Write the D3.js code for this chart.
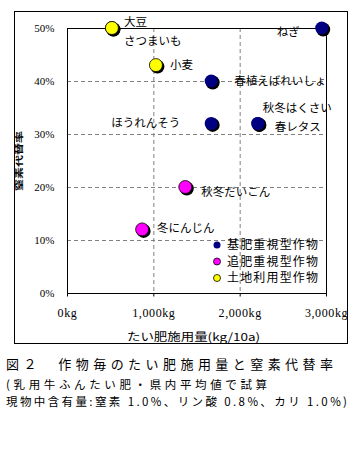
<!DOCTYPE html>
<html>
<head>
<meta charset="utf-8">
<script src="https://cdn.jsdelivr.net/npm/d3@7"></script>
<style>
  body { margin: 0; background: #fff; }
  .jp { font-family: "Noto Sans CJK JP", sans-serif; }
  .tick text { font-family: "Liberation Serif", serif; }
</style>
</head>
<body>
<div id="chart"></div>
<script>
// crops, manure applied (kg/10a), nitrogen replacement rate (%)
const crops = ["大豆", "さつまいも", "小麦", "ねぎ", "春植えばれいしょ", "ほうれんそう", "秋冬はくさい", "春レタス", "秋冬だいこん", "冬にんじん"];
const manure = [520, 520, 1030, 2950, 1670, 1670, 2210, 2210, 1370, 870];
const rate = [50, 50, 43, 50, 40, 32, 32, 32, 20, 12];
const cropType = [2, 2, 2, 0, 0, 0, 0, 0, 1, 1];

const typeNames = ["基肥重視型作物", "追肥重視型作物", "土地利用型作物"];
const typeColors = ["#000080", "#ff00ff", "#ffff00"];

const xTicks = [0, 1000, 2000, 3000];
const yTicks = [0, 10, 20, 30, 40, 50];

const caption = [
    "図２　作物毎のたい肥施用量と窒素代替率",
    "(乳用牛ふんたい肥・県内平均値で試算",
    "現物中含有量:窒素 1.0%、リン酸 0.8%、カリ 1.0%)"
];

// label placement relative to each point: [dx, dy, anchor]
const labelPos = [
    [12, -6, "start"], [12, 13, "start"], [14, 0, "start"], [-22, 4, "end"],
    [23, 0, "start"], [-31, 0, "end"], [5, -15, "start"], [17, 4, "start"],
    [16, 5, "start"], [15, -1, "start"]
];

const width = 351, height = 461;
const plot = { left: 67, top: 28, right: 326, bottom: 293 };

const svg = d3.select("#chart").append("svg")
    .attr("width", width)
    .attr("height", height);

svg.append("rect").attr("width", width).attr("height", height).attr("fill", "#fff");

// outer frame
svg.append("rect")
    .attr("x", 14.5).attr("y", 11.5)
    .attr("width", 333).attr("height", 332)
    .attr("fill", "none").attr("stroke", "#000");

const x = d3.scaleLinear().domain([0, 3000]).range([plot.left, plot.right]);
const y = d3.scaleLinear().domain([0, 50]).range([plot.bottom, plot.top]);

// grid
svg.append("g").selectAll("line").data(xTicks.slice(1, -1)).enter().append("line")
    .attr("x1", d => x(d) + 0.5).attr("x2", d => x(d) + 0.5)
    .attr("y1", plot.top).attr("y2", plot.bottom)
    .attr("stroke", "#808080").attr("stroke-dasharray", "4,3");

svg.append("g").selectAll("line").data(yTicks.slice(1, -1)).enter().append("line")
    .attr("y1", d => y(d) + 0.5).attr("y2", d => y(d) + 0.5)
    .attr("x1", plot.left).attr("x2", plot.right)
    .attr("stroke", "#808080").attr("stroke-dasharray", "4,3");

// plot box
svg.append("rect")
    .attr("x", plot.left + 0.5).attr("y", plot.top + 0.5)
    .attr("width", plot.right - plot.left).attr("height", plot.bottom - plot.top)
    .attr("fill", "none").attr("stroke", "#000");

svg.append("g")
    .attr("transform", "translate(0," + (plot.bottom + 0.5) + ")")
    .call(d3.axisBottom(x).tickValues(xTicks).tickSize(3).tickPadding(12)
        .tickFormat(d => d3.format(",")(d) + "kg"))
    .call(g => g.select(".domain").remove())
    .call(g => g.selectAll("text").attr("font-size", 12).attr("letter-spacing", 0.6).attr("fill", "#000"));

svg.append("g")
    .attr("transform", "translate(" + (plot.left + 0.5) + ",0)")
    .call(d3.axisLeft(y).tickValues(yTicks).tickSize(0).tickPadding(13)
        .tickFormat(d => d + "%"))
    .call(g => g.select(".domain").remove())
    .call(g => g.selectAll("text").attr("font-size", 11).attr("fill", "#000"));

// axis titles
svg.append("text")
    .attr("class", "jp")
    .attr("transform", "translate(22,161) rotate(-90)")
    .attr("text-anchor", "middle")
    .attr("font-size", 8).attr("font-weight", "bold")
    .attr("textLength", 60).attr("lengthAdjust", "spacingAndGlyphs")
    .text("窒素代替率");

svg.append("text")
    .attr("class", "jp")
    .attr("x", 127).attr("y", 341)
    .attr("font-size", 11)
    .attr("textLength", 133).attr("lengthAdjust", "spacingAndGlyphs")
    .text("たい肥施用量(kg/10a)");

// points
const pts = crops.map((c, i) => ({ name: c, x: manure[i], y: rate[i], type: cropType[i], i: i }));

svg.append("g").selectAll("circle").data(pts).enter().append("circle")
    .attr("cx", d => x(d.x) + 1.5).attr("cy", d => y(d.y) + 1.5)
    .attr("r", 7).attr("fill", "#000");

svg.append("g").selectAll("circle").data(pts).enter().append("circle")
    .attr("cx", d => x(d.x)).attr("cy", d => y(d.y))
    .attr("r", 6.5)
    .attr("fill", d => typeColors[d.type])
    .attr("stroke", d => d.type == 0 ? "none" : "#000")
    .attr("stroke-width", 0.8);

svg.append("g").selectAll("text").data(pts).enter().append("text")
    .attr("class", "jp")
    .attr("x", d => x(d.x) + labelPos[d.i][0])
    .attr("y", d => y(d.y) + labelPos[d.i][1])
    .attr("dy", "0.35em")
    .attr("text-anchor", d => labelPos[d.i][2])
    .attr("font-size", 11.5)
    .text(d => d.name);

// legend
const legend = svg.append("g").selectAll("g").data(typeNames).enter().append("g")
    .attr("transform", (d, i) => "translate(217," + (245 + i * 16.5) + ")");

legend.append("circle")
    .attr("r", 3.5)
    .attr("fill", (d, i) => typeColors[i])
    .attr("stroke", (d, i) => i == 0 ? "none" : "#000")
    .attr("stroke-width", 0.8);

legend.append("text")
    .attr("class", "jp")
    .attr("x", 10).attr("dy", "0.35em")
    .attr("font-size", 12)
    .attr("textLength", 91).attr("lengthAdjust", "spacing")
    .text(d => d);

// caption
const capY = [369, 389, 406];
const capLen = [327, 261, 341];
const capSize = [13, 11.5, 11.5];
svg.append("g").selectAll("text").data(caption).enter().append("text")
    .attr("class", "jp")
    .attr("x", 6)
    .attr("y", (d, i) => capY[i])
    .attr("font-size", (d, i) => capSize[i])
    .attr("textLength", (d, i) => capLen[i]).attr("lengthAdjust", "spacing")
    .text(d => d);
</script>
</body>
</html>
